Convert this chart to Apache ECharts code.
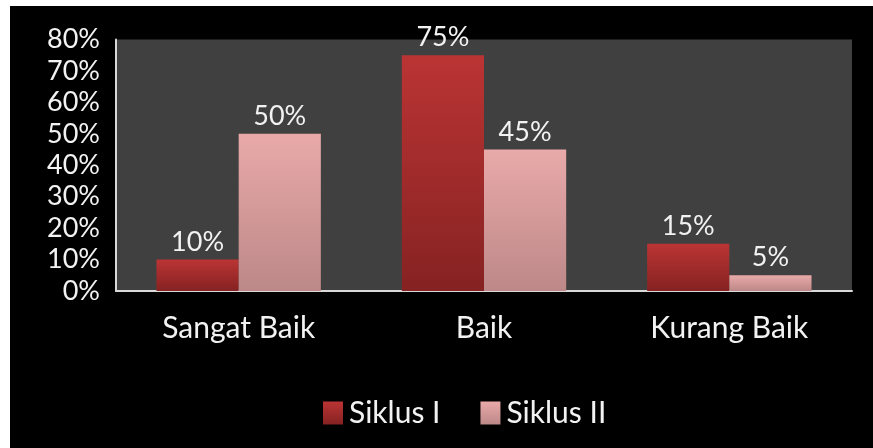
<!DOCTYPE html>
<html>
<head>
<meta charset="utf-8">
<script src="https://cdn.jsdelivr.net/npm/echarts@6/dist/echarts.min.js"></script>
<style>
html,body{margin:0;padding:0;background:#ffffff;width:873px;height:448px;overflow:hidden;}
#c{position:absolute;left:10px;top:6px;width:863px;height:442px;background:#000000;}
</style>
</head>
<body>
<div id="c"></div>
<script>
const categories = ['Sangat Baik', 'Baik', 'Kurang Baik'];
const siklus1 = [10, 75, 15];
const siklus2 = [50, 45, 5];
const seriesNames = ['Siklus I', 'Siklus II'];
const yTicks = [0, 10, 20, 30, 40, 50, 60, 70, 80];

const FONT = 'Lato';
const chart = echarts.init(document.getElementById('c'));
function grad(top, bottom) {
  return new echarts.graphic.LinearGradient(0, 0, 0, 1, [
    {offset: 0, color: top}, {offset: 1, color: bottom}
  ]);
}
const labelStyle = {show: true, position: 'top', distance: 4, color: '#f2f2f2', fontFamily: FONT, fontSize: 27, formatter: p => p.value + '%'};
chart.setOption({
  backgroundColor: '#000000',
  animation: false,
  grid: {left: 106, right: 21, top: 33.5, bottom: 157, show: true, backgroundColor: '#404040', borderWidth: 0},
  legend: {
    data: seriesNames, left: 308, top: 387, itemWidth: 20, itemHeight: 23, itemGap: 40,
    textStyle: {color: '#f2f2f2', fontFamily: FONT, fontSize: 30, padding: [0,0,0,1]},
    icon: 'rect'
  },
  xAxis: {
    type: 'category', data: categories,
    axisLine: {lineStyle: {color: '#d9d9d9', width: 2}},
    axisTick: {show: false},
    axisLabel: {color: '#f2f2f2', fontFamily: FONT, fontSize: 30, margin: 22}
  },
  yAxis: {
    type: 'value', min: 0, max: 80, interval: 10,
    axisLine: {show: true, lineStyle: {color: '#d9d9d9', width: 2}},
    axisTick: {show: false},
    splitLine: {show: false},
    axisLabel: {color: '#f2f2f2', fontFamily: FONT, fontSize: 27, margin: 16,
      formatter: v => yTicks.includes(v) ? v + '%' : ''}
  },
  series: [
    {name: seriesNames[0], type: 'bar', data: siklus1, barGap: '0%', barCategoryGap: '33%',
     itemStyle: {color: grad('#bb3434', '#862222')}, label: labelStyle},
    {name: seriesNames[1], type: 'bar', data: siklus2,
     itemStyle: {color: grad('#e9a9a9', '#bd8888')}, label: labelStyle}
  ]
});
</script>
</body>
</html>
